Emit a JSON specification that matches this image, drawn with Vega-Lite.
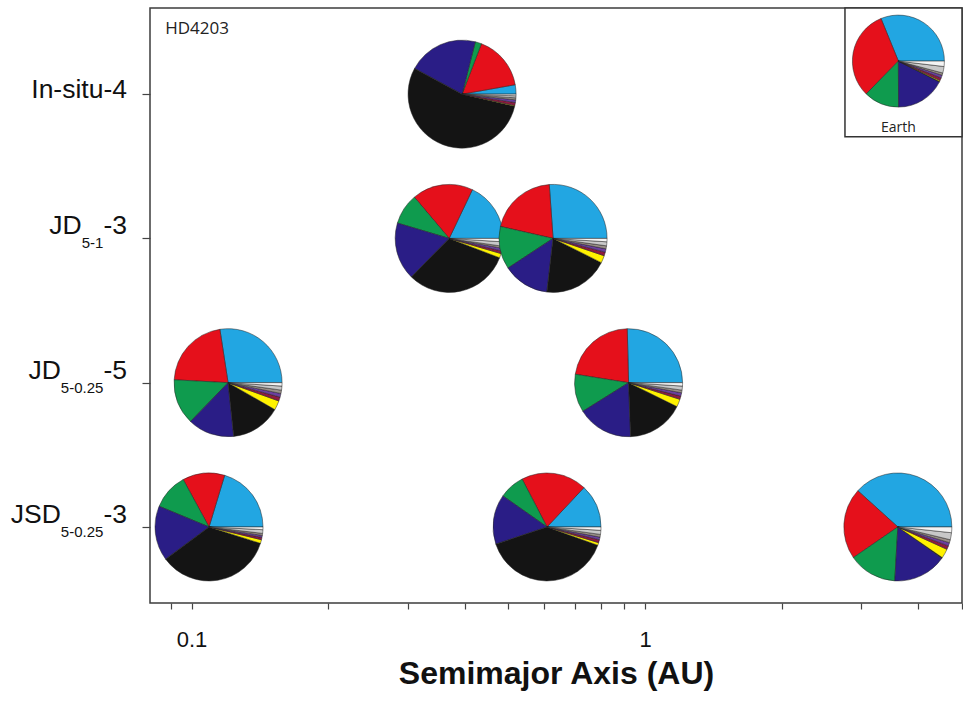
{
  "$schema": "https://vega.github.io/schema/vega-lite/v6.json",
  "width": 812,
  "height": 595,
  "autosize": "none",
  "padding": {"left": 150, "top": 8, "right": 1, "bottom": 98},
  "background": "white",
  "config": {
    "font": "Liberation Sans",
    "view": {"stroke": "#3d3d3d", "strokeWidth": 1.5}
  },
  "datasets": {
    "planets": [
      {"id": "insitu4-p1", "row": 4, "a": 0.395, "O": 2.8, "Fe": 16.4, "Mg": 1.9, "Si": 21.1, "C": 54.4, "S": 0.2, "Na": 0.9, "Cr": 0.8, "Ni": 0.6, "Al": 0.6, "Ca": 0.5},
      {"id": "jd51-p1", "row": 3, "a": 0.37, "O": 17.8, "Fe": 18.1, "Mg": 9.2, "Si": 17.1, "C": 31.3, "S": 1.3, "Na": 0.8, "Cr": 0.8, "Ni": 0.6, "Al": 1.3, "Ca": 1.0},
      {"id": "jd51-p2", "row": 3, "a": 0.627, "O": 26.1, "Fe": 20.3, "Mg": 12.8, "Si": 13.9, "C": 19.4, "S": 2.2, "Na": 1.1, "Cr": 1.0, "Ni": 0.9, "Al": 1.2, "Ca": 1.0},
      {"id": "jd5025-p1", "row": 2, "a": 0.1204, "O": 27.4, "Fe": 21.7, "Mg": 13.6, "Si": 13.9, "C": 15.0, "S": 2.8, "Na": 1.2, "Cr": 1.1, "Ni": 1.0, "Al": 1.2, "Ca": 1.0},
      {"id": "jd5025-p2", "row": 2, "a": 0.92, "O": 25.4, "Fe": 22.1, "Mg": 11.4, "Si": 16.7, "C": 17.1, "S": 2.3, "Na": 1.0, "Cr": 1.0, "Ni": 0.8, "Al": 1.2, "Ca": 1.0},
      {"id": "jsd5025-p1", "row": 1, "a": 0.1093, "O": 20.3, "Fe": 12.6, "Mg": 10.8, "Si": 16.4, "C": 34.9, "S": 1.1, "Na": 0.7, "Cr": 0.6, "Ni": 0.6, "Al": 1.1, "Ca": 0.8},
      {"id": "jsd5025-p2", "row": 1, "a": 0.608, "O": 13.0, "Fe": 19.6, "Mg": 7.6, "Si": 14.9, "C": 39.3, "S": 0.8, "Na": 0.9, "Cr": 0.8, "Ni": 0.8, "Al": 1.2, "Ca": 1.0},
      {"id": "jsd5025-p3", "row": 1, "a": 3.61, "O": 38.3, "Fe": 21.3, "Mg": 14.5, "Si": 16.1, "C": 0.2, "S": 2.8, "Na": 1.1, "Cr": 1.0, "Ni": 0.9, "Al": 2.1, "Ca": 1.7}
    ],
    "earth": [
      {"id": "earth", "O": 31.4, "Fe": 31.7, "Mg": 12.5, "Si": 17.6, "C": 0.1, "S": 0.4, "Na": 1.0, "Cr": 1.0, "Ni": 0.8, "Al": 2.3, "Ca": 1.9}
    ],
    "models": [
      {"row": 4, "head": "", "sub": "", "tail": "In-situ-4"},
      {"row": 3, "head": "JD", "sub": "5-1", "tail": "-3"},
      {"row": 2, "head": "JD", "sub": "5-0.25", "tail": "-5"},
      {"row": 1, "head": "JSD", "sub": "5-0.25", "tail": "-3"}
    ]
  },
  "layer": [
    {
      "data": {"name": "planets"},
      "transform": [
        {"fold": ["O", "Fe", "Mg", "Si", "C", "S", "Na", "Cr", "Ni", "Al", "Ca"], "as": ["el", "pct"]},
        {"stack": "pct", "groupby": ["id"], "offset": "normalize", "as": ["t0", "t1"]}
      ],
      "mark": {"type": "arc", "outerRadius": 54, "stroke": "#222", "strokeWidth": 0.5},
      "encoding": {
        "x": {
          "field": "a", "type": "quantitative",
          "scale": {"type": "log", "domain": [0.081, 5], "nice": false},
          "axis": {
            "title": "Semimajor Axis (AU)",
            "values": [0.09, 0.1, 0.2, 0.3, 0.4, 0.5, 0.6, 0.7, 0.8, 0.9, 1, 2, 3, 4, 5],
            "format": "~g",
            "labelExpr": "datum.value == 0.1 || datum.value == 1 ? datum.label : ''",
            "grid": false, "domain": false,
            "tickSize": 6, "tickColor": "#444", "tickWidth": 1.2,
            "labelFontSize": 22, "labelPadding": 20, "labelColor": "#111",
            "titleFontSize": 32, "titleFontWeight": "bold", "titleColor": "#111", "titlePadding": 8
          }
        },
        "y": {
          "field": "row", "type": "quantitative",
          "scale": {"domain": [0.473, 4.597], "nice": false, "zero": false},
          "axis": {
            "values": [1, 2, 3, 4], "labels": false, "title": null,
            "grid": false, "domain": false,
            "tickSize": 8, "tickColor": "#444", "tickWidth": 1.2
          }
        },
        "theta": {"field": "t0", "type": "quantitative", "scale": {"domain": [0, 1], "range": [1.5708, -4.7124]}},
        "theta2": {"field": "t1"},
        "color": {
          "field": "el", "type": "nominal", "legend": null,
          "scale": {
            "domain": ["O", "Fe", "Mg", "Si", "C", "S", "Na", "Cr", "Ni", "Al", "Ca"],
            "range": ["#22a6e2", "#e5101b", "#0f9b4e", "#2a1d86", "#141414", "#fff200", "#8e1b3f", "#6b3fa0", "#9a8f88", "#c8c8c8", "#f4f4f4"]
          }
        }
      }
    },
    {
      "data": {"values": [{}]},
      "mark": {"type": "rect", "fill": "white", "stroke": "#333", "strokeWidth": 1.5},
      "encoding": {
        "x": {"datum": 2.76, "type": "quantitative", "scale": {"type": "log", "domain": [0.081, 5], "nice": false}},
        "x2": {"datum": 5},
        "y": {"datum": 3.705, "type": "quantitative", "scale": {"domain": [0.473, 4.597], "nice": false, "zero": false}},
        "y2": {"datum": 4.597}
      }
    },
    {
      "data": {"name": "earth"},
      "transform": [
        {"fold": ["O", "Fe", "Mg", "Si", "C", "S", "Na", "Cr", "Ni", "Al", "Ca"], "as": ["el", "pct"]},
        {"stack": "pct", "groupby": ["id"], "offset": "normalize", "as": ["t0", "t1"]}
      ],
      "mark": {"type": "arc", "outerRadius": 46, "stroke": "#222", "strokeWidth": 0.5},
      "encoding": {
        "x": {"datum": 3.62, "type": "quantitative", "scale": {"type": "log", "domain": [0.081, 5], "nice": false}},
        "y": {"datum": 4.229, "type": "quantitative", "scale": {"domain": [0.473, 4.597], "nice": false, "zero": false}},
        "theta": {"field": "t0", "type": "quantitative", "scale": {"domain": [0, 1], "range": [1.5708, -4.7124]}},
        "theta2": {"field": "t1"},
        "color": {"field": "el", "type": "nominal", "legend": null}
      }
    },
    {
      "data": {"values": [{"label": "Earth"}]},
      "mark": {"type": "text", "fontSize": 14, "font": "Open Sans", "color": "#222", "baseline": "middle"},
      "encoding": {
        "x": {"datum": 3.62, "type": "quantitative", "scale": {"type": "log", "domain": [0.081, 5], "nice": false}},
        "y": {"datum": 3.765, "type": "quantitative", "scale": {"domain": [0.473, 4.597], "nice": false, "zero": false}},
        "text": {"field": "label"}
      }
    },
    {
      "data": {"values": [{"label": "HD4203"}]},
      "mark": {"type": "text", "fontSize": 17, "font": "Open Sans", "color": "#222", "align": "left", "baseline": "middle"},
      "encoding": {
        "x": {"datum": 0.0875, "type": "quantitative", "scale": {"type": "log", "domain": [0.081, 5], "nice": false}},
        "y": {"datum": 4.451, "type": "quantitative", "scale": {"domain": [0.473, 4.597], "nice": false, "zero": false}},
        "text": {"field": "label"}
      }
    },
    {
      "data": {"name": "models"},
      "transform": [{"filter": "datum.sub == ''"}],
      "mark": {"type": "text", "fontSize": 26.5, "color": "#111", "align": "right", "baseline": "alphabetic", "dx": -23, "dy": 4},
      "encoding": {
        "x": {"datum": 0.081, "type": "quantitative", "scale": {"type": "log", "domain": [0.081, 5], "nice": false}},
        "y": {"field": "row", "type": "quantitative", "scale": {"domain": [0.473, 4.597], "nice": false, "zero": false}},
        "text": {"field": "tail"}
      }
    },
    {
      "data": {"name": "models"},
      "transform": [{"filter": "datum.sub != ''"}],
      "mark": {"type": "text", "fontSize": 26.5, "color": "#111", "align": "right", "baseline": "alphabetic", "dx": -23, "dy": -4},
      "encoding": {
        "x": {"datum": 0.081, "type": "quantitative", "scale": {"type": "log", "domain": [0.081, 5], "nice": false}},
        "y": {"field": "row", "type": "quantitative", "scale": {"domain": [0.473, 4.597], "nice": false, "zero": false}},
        "text": {"field": "tail"}
      }
    },
    {
      "data": {"name": "models"},
      "transform": [{"filter": "datum.sub != ''"}],
      "mark": {"type": "text", "fontSize": 15, "color": "#111", "align": "right", "baseline": "alphabetic", "dx": -46.6, "dy": 10},
      "encoding": {
        "x": {"datum": 0.081, "type": "quantitative", "scale": {"type": "log", "domain": [0.081, 5], "nice": false}},
        "y": {"field": "row", "type": "quantitative", "scale": {"domain": [0.473, 4.597], "nice": false, "zero": false}},
        "text": {"field": "sub"}
      }
    },
    {
      "data": {"name": "models"},
      "transform": [{"filter": "datum.sub == '5-1'"}],
      "mark": {"type": "text", "fontSize": 26.5, "color": "#111", "align": "right", "baseline": "alphabetic", "dx": -68.3, "dy": -4},
      "encoding": {
        "x": {"datum": 0.081, "type": "quantitative", "scale": {"type": "log", "domain": [0.081, 5], "nice": false}},
        "y": {"field": "row", "type": "quantitative", "scale": {"domain": [0.473, 4.597], "nice": false, "zero": false}},
        "text": {"field": "head"}
      }
    },
    {
      "data": {"name": "models"},
      "transform": [{"filter": "datum.sub == '5-0.25'"}],
      "mark": {"type": "text", "fontSize": 26.5, "color": "#111", "align": "right", "baseline": "alphabetic", "dx": -89.1, "dy": -4},
      "encoding": {
        "x": {"datum": 0.081, "type": "quantitative", "scale": {"type": "log", "domain": [0.081, 5], "nice": false}},
        "y": {"field": "row", "type": "quantitative", "scale": {"domain": [0.473, 4.597], "nice": false, "zero": false}},
        "text": {"field": "head"}
      }
    }
  ]
}
